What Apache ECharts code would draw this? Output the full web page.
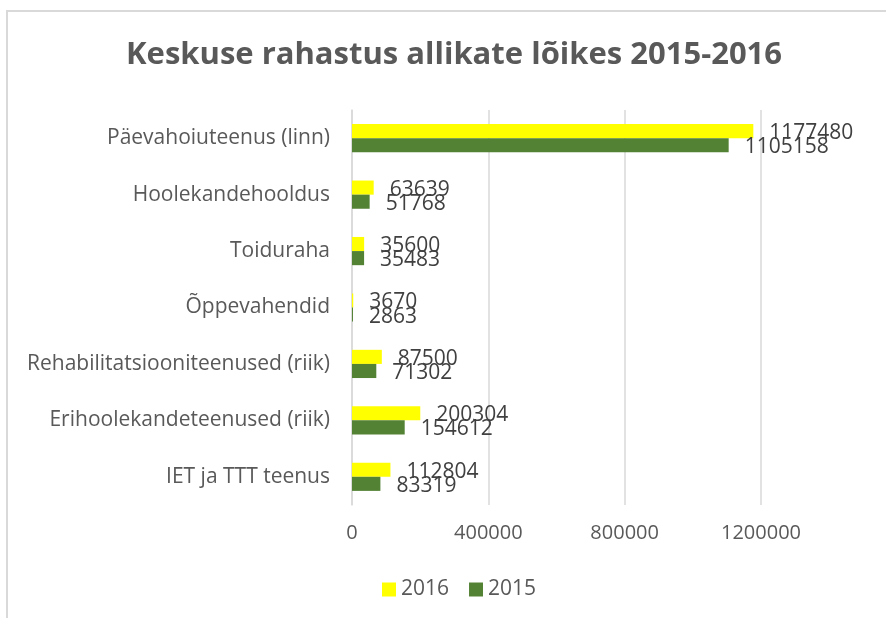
<!DOCTYPE html>
<html>
<head>
<meta charset="utf-8">
<script src="https://cdn.jsdelivr.net/npm/echarts@6/dist/echarts.min.js"></script>
<style>
    html, body { margin: 0; padding: 0; background: #fff; }
    #chart { width: 886px; height: 618px; }
</style>
</head>
<body>
<div id="chart"></div>
<script>
// kategooriad ülevalt alla
var categories = ['Päevahoiuteenus (linn)', 'Hoolekandehooldus', 'Toiduraha', 'Õppevahendid',
    'Rehabilitatsiooniteenused (riik)', 'Erihoolekandeteenused (riik)', 'IET ja TTT teenus'];
var values2016 = [1177480, 63639, 35600, 3670, 87500, 200304, 112804];
var values2015 = [1105158, 51768, 35483, 2863, 71302, 154612, 83319];
var xTicks = [0, 400000, 800000, 1200000];

var myChart = echarts.init(document.getElementById('chart'));
var font = '"Open Sans", "Noto Sans", sans-serif';
var labelStyle = {
    show: true,
    position: 'right',
    distance: 16,
    offset: [0, 2],
    color: '#404040',
    fontSize: 21,
    fontFamily: font
};
var option = {
    backgroundColor: '#fff',
    color: ['#ffff00', '#548235'],
    title: {
        text: 'Keskuse rahastus allikate lõikes 2015-2016',
        left: 121,
        top: 35,
        textStyle: {
            color: '#595959',
            fontSize: 31,
            fontWeight: 'bold',
            fontFamily: '"Open Sans", sans-serif'
        }
    },
    // raam
    graphic: [{
        type: 'rect',
        shape: { x: 7, y: 11, width: 900, height: 700 },
        style: { fill: 'none', stroke: '#d9d9d9', lineWidth: 2 },
        silent: true
    }],
    legend: {
        bottom: 13,
        left: 377,
        itemWidth: 14,
        itemHeight: 14,
        itemGap: 20,
        icon: 'rect',
        data: ['2016', '2015'],
        textStyle: { color: '#595959', fontSize: 21, fontFamily: font }
    },
    grid: {
        left: 352,
        right: 125,
        top: 110,
        bottom: 113
    },
    xAxis: {
        type: 'value',
        min: 0,
        max: xTicks[xTicks.length - 1],
        interval: 400000,
        axisLine: { show: false },
        axisTick: { show: false },
        splitLine: { lineStyle: { color: '#d9d9d9', width: 1.5 } },
        axisLabel: {
            margin: 18,
            color: '#595959',
            fontSize: 20,
            fontFamily: font,
            formatter: function (v) { return String(v); }
        }
    },
    yAxis: {
        type: 'category',
        inverse: true,
        data: categories,
        axisLine: { lineStyle: { color: '#d9d9d9', width: 1.5 } },
        axisTick: { show: false },
        axisLabel: {
            margin: 22,
            color: '#595959',
            fontSize: 21,
            fontFamily: font
        }
    },
    series: [{
        name: '2016',
        type: 'bar',
        barGap: '0%',
        barCategoryGap: '50%',
        data: values2016,
        label: labelStyle
    }, {
        name: '2015',
        type: 'bar',
        data: values2015,
        label: labelStyle
    }]
};
myChart.setOption(option);
</script>
</body>
</html>
